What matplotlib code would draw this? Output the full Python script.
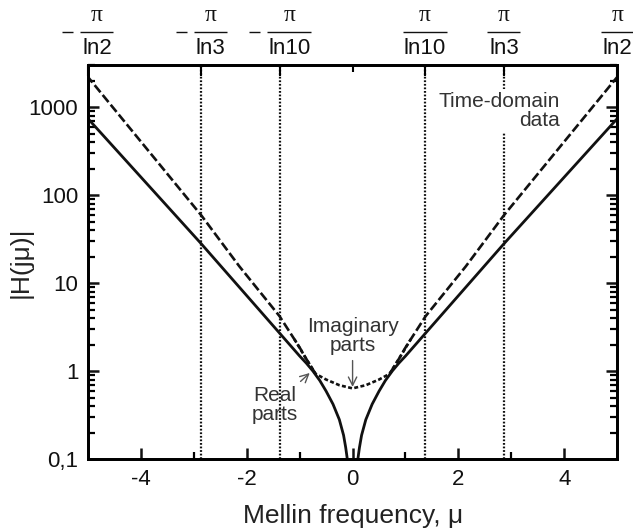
import numpy as np
import matplotlib
matplotlib.use("Agg")
import matplotlib.pyplot as plt
from matplotlib.ticker import FixedLocator, FixedFormatter, LogLocator, NullFormatter

plt.rcParams['font.family'] = ['Liberation Sans', 'DejaVu Sans']

# real parts (solid), one branch per side of mu = 0
mu_real_right = [0.1, 0.13, 0.17, 0.25, 0.37, 0.5, 0.62, 0.75, 0.875, 1.0, 1.38, 2.86, 5.0]
h_real_right = [0.10, 0.135, 0.186, 0.28, 0.42, 0.59, 0.78, 1.0, 1.23, 1.48, 2.7, 28, 740]

# dashed curve (outer parts)
mu_dash_right = [0.7, 0.89, 1.0, 1.38, 2.14, 2.86, 5.0]
h_dash_right = [0.93, 1.42, 1.85, 4.2, 15.5, 59, 2200]

# imaginary parts (dotted)
mu_imag = [-1.1, -0.89, -0.7, -0.5, -0.25, 0.0, 0.25, 0.5, 0.7, 0.89, 1.1]
h_imag = [2.3, 1.42, 0.93, 0.80, 0.69, 0.635, 0.69, 0.80, 0.93, 1.42, 2.3]

# special frequencies (top axis); the outer pair sits on the frame edges
mu_marks = [-np.pi / np.log(3), -np.pi / np.log(10), np.pi / np.log(10), np.pi / np.log(3)]
top_pos = [-5, -np.pi / np.log(3), -np.pi / np.log(10), np.pi / np.log(10), np.pi / np.log(3), 5]
top_sign = ['-', '-', '-', '', '', '']
top_den = ['ln2', 'ln3', 'ln10', 'ln10', 'ln3', 'ln2']

y_ticks = [0.1, 1, 10, 100, 1000]
y_labels = ['0,1', '1', '10', '100', '1000']

fig = plt.figure(figsize=(6.33, 5.3), dpi=100)
ax = fig.add_axes([0.139, 0.134, 0.836, 0.743])

k = '#111111'
ax.plot(mu_real_right, h_real_right, color=k, lw=2.0)
ax.plot([-m for m in mu_real_right], h_real_right, color=k, lw=2.0)
ax.plot(mu_dash_right, h_dash_right, color=k, lw=1.9, linestyle=(0, (3.5, 1.3)))
ax.plot([-m for m in mu_dash_right], h_dash_right, color=k, lw=1.9, linestyle=(0, (3.5, 1.3)))
ax.plot(mu_imag, h_imag, color=k, lw=1.9, linestyle=(0, (1.5, 0.9)))

for m in mu_marks:
    ax.axvline(m, color=k, lw=1.6, linestyle=(0, (0.8, 0.8)), zorder=1)

ax.set_yscale('log')
ax.set_xlim(-5, 5)
ax.set_ylim(0.1, 3000)

ax.set_xticks([-4, -2, 0, 2, 4])
ax.set_xticklabels(['-4', '-2', '0', '2', '4'])
ax.xaxis.set_minor_locator(FixedLocator([-3, -1, 1, 3]))
ax.yaxis.set_major_locator(FixedLocator(y_ticks))
ax.yaxis.set_major_formatter(FixedFormatter(y_labels))
ax.yaxis.set_minor_locator(LogLocator(base=10, subs=np.arange(2, 10), numticks=20))
ax.yaxis.set_minor_formatter(NullFormatter())

ax.tick_params(which='major', direction='in', length=8, width=1.8, labelsize=16, colors=k,
               left=True, right=True, bottom=True, top=False, pad=7)
ax.tick_params(which='minor', direction='in', length=5, width=1.6,
               left=True, right=True, bottom=True, top=False)
for s in ax.spines.values():
    s.set_linewidth(2.0)

ax2 = ax.twiny()
ax2.set_xlim(-5, 5)
ax2.set_xticks(top_pos)
ax2.set_xticklabels([''] * len(top_pos))
ax2.xaxis.set_minor_locator(FixedLocator([0]))
ax2.tick_params(which='major', direction='in', length=8, width=1.5)
ax2.tick_params(which='minor', direction='in', length=5, width=1.5)
for s in ax2.spines.values():
    s.set_linewidth(2.0)

# stacked fractions  -pi / ln n  above the frame
px = 52.9  # pixels per unit of mu
tr = ax.get_xaxis_transform()
for x, sg, den in zip(top_pos, top_sign, top_den):
    w = (44 if den == 'ln10' else 33) / px
    cx = x + (9 / px if sg else 0)
    ax.text(cx, 1.125, 'π', transform=tr, ha='center', va='center', fontsize=17,
            family='Liberation Serif', color=k, clip_on=False)
    ax.text(cx, 1.043, den, transform=tr, ha='center', va='center', fontsize=16,
            color=k, clip_on=False)
    ax.plot([cx - w / 2, cx + w / 2], [1.084, 1.084], transform=tr, color=k, lw=1.0,
            clip_on=False, solid_capstyle='butt')
    if sg:
        mx = cx - w / 2 - 12.5 / px
        ax.plot([mx - 5.5 / px, mx + 5.5 / px], [1.084, 1.084], transform=tr, color=k,
                lw=1.0, clip_on=False, solid_capstyle='butt')

ax.set_xlabel('Mellin frequency, μ', fontsize=19, color='#222222', labelpad=10)
ax.set_ylabel('|H(jμ)|', fontsize=19, color='#222222', labelpad=-3)

ann = '#333333'
ax.text(3.91, 900, 'Time-domain\ndata', ha='right', va='center', multialignment='right',
        fontsize=15, color=ann, linespacing=1.0, zorder=5,
        bbox=dict(facecolor='white', edgecolor='none', pad=2))
ax.annotate('Imaginary\nparts', xy=(0, 0.66), xytext=(0, 2.5), ha='center', va='center',
            fontsize=15, color=ann, linespacing=1.0,
            arrowprops=dict(arrowstyle='->', color='#555555', lw=1.0, shrinkA=2, shrinkB=0))
ax.annotate('Real\nparts', xy=(-0.81, 0.95), xytext=(-1.47, 0.41), ha='center', va='center',
            fontsize=15, color=ann, linespacing=1.0,
            arrowprops=dict(arrowstyle='->', color='#555555', lw=1.0, shrinkA=2, shrinkB=0))

fig.savefig('out.png', dpi=100)
